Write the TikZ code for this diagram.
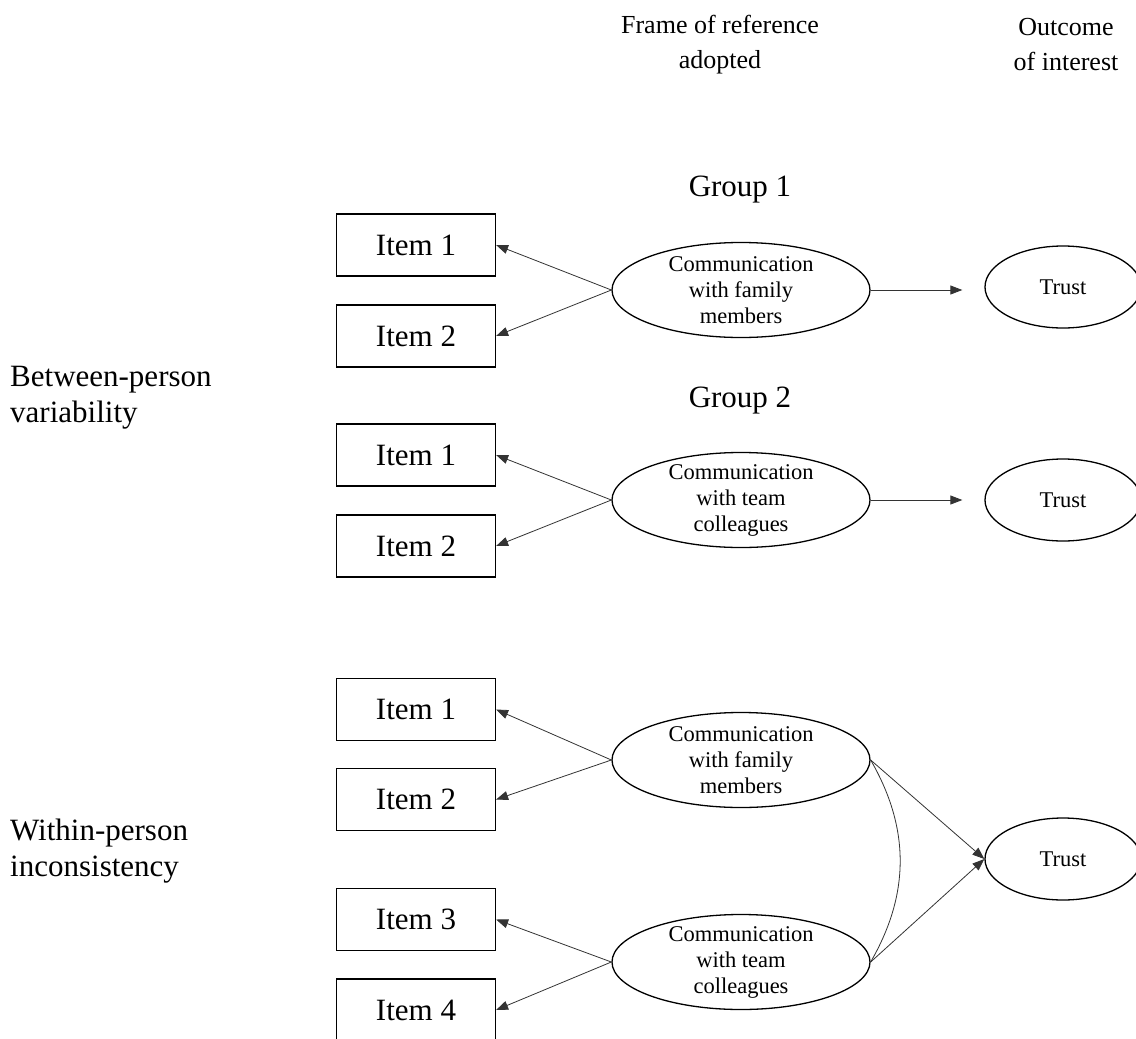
\documentclass[tikz,border=0pt]{standalone}
\usepackage{fontspec}
\setmainfont{Liberation Serif}
\usetikzlibrary{arrows.meta,shapes.geometric}

\begin{document}
\begin{tikzpicture}[x=1pt,y=-1pt,>={Triangle[length=12pt,width=9pt]},
itembox/.style={draw,line width=1.2pt,minimum width=159pt,minimum height=62pt,font=\fontsize{31}{35}\selectfont},
latent/.style={draw,ellipse,line width=1.3pt,minimum width=258pt,minimum height=95pt,inner sep=-5pt,align=center,font=\fontsize{22.5}{26}\selectfont},
outcome/.style={draw,ellipse,line width=1.3pt,minimum width=156pt,minimum height=82pt,font=\fontsize{22.5}{26}\selectfont},
heading/.style={align=center,font=\fontsize{26}{35}\selectfont},
rowlabel/.style={align=left,anchor=west,inner sep=0pt,font=\fontsize{31}{36}\selectfont},
load/.style={->,line width=0.8pt,black!80}]
\useasboundingbox (0,0) rectangle (1136,1039);
% headings
\node[heading] (frame) at (720,45) {Frame of reference\\adopted};
\node[heading] (outc) at (1066,45) {Outcome\\of interest};
\node[rowlabel] (between) at (10,398) {Between-person\\variability};
\node[rowlabel] (within) at (10,851) {Within-person\\inconsistency};
% group 1
\node[font=\fontsize{31}{35}\selectfont] (g1) at (740,190) {Group 1};
\node[itembox] (i11) at (416,245) {Item 1};
\node[itembox] (i12) at (416,336) {Item 2};
\node[latent] (c1) at (741,290) {Communication\\with family\\members};
\node[outcome] (t1) at (1063,287) {Trust};
\draw[load] (c1.west)--(i11.east);
\draw[load] (c1.west)--(i12.east);
\draw[load,shorten >=22pt] (c1.east)--(c1.east -| t1.west);
% group 2
\node[font=\fontsize{31}{35}\selectfont] (g2) at (740,401) {Group 2};
\node[itembox] (i21) at (416,455) {Item 1};
\node[itembox] (i22) at (416,546) {Item 2};
\node[latent] (c2) at (741,500) {Communication\\with team\\colleagues};
\node[outcome] (t2) at (1063,500) {Trust};
\draw[load] (c2.west)--(i21.east);
\draw[load] (c2.west)--(i22.east);
\draw[load,shorten >=22pt] (c2.east)--(c2.east -| t2.west);
% within person
\node[itembox] (i31) at (416,709.5) {Item 1};
\node[itembox] (i32) at (416,799.5) {Item 2};
\node[itembox] (i33) at (416,919.5) {Item 3};
\node[itembox] (i34) at (416,1010) {Item 4};
\node[latent] (c3) at (741,760) {Communication\\with family\\members};
\node[latent] (c4) at (741,962) {Communication\\with team\\colleagues};
\node[outcome] (t3) at (1063,859) {Trust};
\draw[load] (c3.west)--(i31.east);
\draw[load] (c3.west)--(i32.east);
\draw[load] (c4.west)--(i33.east);
\draw[load] (c4.west)--(i34.east);
\draw[load] (c3.east)--(t3.west);
\draw[load] (c4.east)--(t3.west);
\draw[line width=0.8pt,black!80] (c3.east) to[out=-60,in=60] (c4.east);
\end{tikzpicture}
\end{document}
